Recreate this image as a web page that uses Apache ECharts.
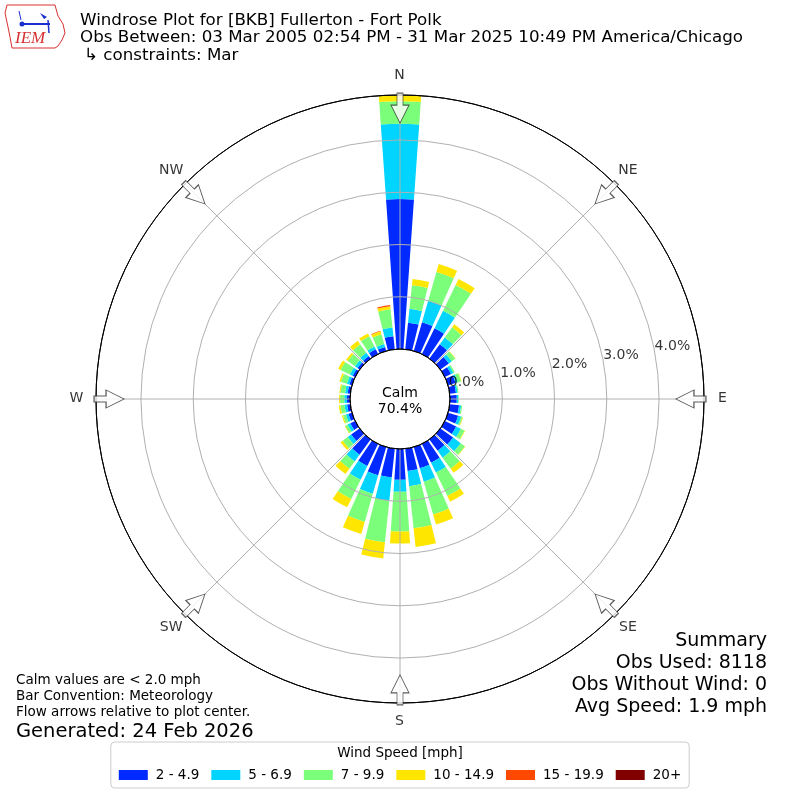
<!DOCTYPE html>
<html><head><meta charset="utf-8">
<script src="https://cdn.jsdelivr.net/npm/echarts/dist/echarts.min.js"></script>
<style>html,body{margin:0;padding:0;background:#fff}#c{width:800px;height:800px}</style>
</head><body><div id="c"></div>
<script>
// ---- data ----
const directions = [0,10,20,30,40,50,60,70,80,90,100,110,120,130,140,150,160,170,180,190,200,210,220,230,240,250,260,270,280,290,300,310,320,330,340,350];
const speedBins = ['2 - 4.9','5 - 6.9','7 - 9.9','10 - 14.9','15 - 19.9','20+'];
const binColors = ['#002aff','#00d4ff','#7bff7b','#ffe600','#ff4900','#800000'];
const s2to5   = [2.87,0.51,0.57,0.55,0.34,0.20,0.13,0.15,0.12,0.13,0.18,0.20,0.24,0.30,0.27,0.40,0.42,0.43,0.59,0.55,0.56,0.47,0.36,0.20,0.10,0.07,0.06,0.06,0.05,0.05,0.05,0.05,0.06,0.10,0.08,0.25];
const s5to7   = [1.44,0.27,0.43,0.37,0.16,0.07,0.05,0.04,0.03,0.03,0.04,0.06,0.10,0.18,0.16,0.21,0.27,0.29,0.23,0.45,0.37,0.29,0.16,0.08,0.06,0.05,0.05,0.05,0.05,0.05,0.06,0.06,0.08,0.06,0.06,0.17];
const s7to10  = [0.43,0.45,0.57,0.55,0.24,0.08,0.03,0.07,0.02,0.01,0.02,0.03,0.08,0.10,0.26,0.50,0.65,0.81,0.76,0.80,0.56,0.41,0.17,0.12,0.05,0.06,0.08,0.08,0.09,0.12,0.20,0.17,0.20,0.22,0.19,0.35];
const s10to15 = [0.11,0.12,0.16,0.13,0.07,0.01,0.00,0.01,0.00,0.00,0.00,0.01,0.01,0.01,0.10,0.12,0.20,0.36,0.23,0.31,0.24,0.18,0.13,0.05,0.01,0.02,0.03,0.02,0.02,0.03,0.05,0.04,0.08,0.06,0.06,0.06];
const s15to20 = [0,0,0,0,0,0,0,0,0,0,0,0,0,0,0,0,0,0,0,0,0,0,0,0,0,0,0,0,0,0,0,0,0,0,0.01,0.02];
const s20plus = [0,0,0,0,0,0,0,0,0,0,0,0,0,0,0,0,0,0,0,0,0,0,0,0,0,0,0,0,0,0,0,0,0,0,0,0];
const radialTicks = [0,1,2,3,4];
const radialTickLabels = ['0.0%','1.0%','2.0%','3.0%','4.0%'];
const compassAngles = [0,45,90,135,180,225,270,315];
const compassLabels = ['N','NE','E','SE','S','SW','W','NW'];
const calmText = 'Calm\n70.4%';
const titleLines = ['Windrose Plot for [BKB] Fullerton - Fort Polk','Obs Between: 03 Mar 2005 02:54 PM - 31 Mar 2025 10:49 PM America/Chicago','\u21b3 constraints: Mar'];
const summaryLines = ['Summary','Obs Used: 8118','Obs Without Wind: 0','Avg Speed: 1.9 mph'];
const noteLines = ['Calm values are < 2.0 mph','Bar Convention: Meteorology','Flow arrows relative to plot center.'];
const generatedText = 'Generated: 24 Feb 2026';
const legendTitle = 'Wind Speed [mph]';
const binSeries = [s2to5, s5to7, s7to10, s10to15, s15to20, s20plus];

// ---- layout ----
const CENTER = [400, 399];
const RADII = [50, 304];
const LABEL_RADII = [0, 323];
const R_MAX = 4.86;
const ARROW_R = 4.61;
const LABEL_BEARING = 80;
const FONT = 'DejaVu Sans';
const arrowPath = 'path://M6,0 L12,0 L12,12 L18,12 L9,30 L0,12 L6,12 Z';

const chart = echarts.init(document.getElementById('c'), null, {renderer:'canvas'});

const series = speedBins.map((name, k) => ({
  type: 'bar', name, coordinateSystem: 'polar', polarIndex: 0, stack: 'wind',
  data: binSeries[k], barCategoryGap: '20%', itemStyle: {color: binColors[k]}, z: 2, silent: true
}));
series.push({
  type: 'scatter', coordinateSystem: 'polar', polarIndex: 1, z: 10, silent: true,
  symbol: arrowPath, symbolSize: [18, 30],
  itemStyle: {color: '#fff', borderColor: '#333', borderWidth: 1},
  data: compassAngles.map(a => ({value: [ARROW_R, a], symbolRotate: -a}))
});
series.push({
  type: 'scatter', coordinateSystem: 'polar', polarIndex: 1, z: 10, silent: true,
  symbolSize: 1, itemStyle: {color: 'rgba(0,0,0,0)'},
  label: {show: true, position: [0, 0], align: 'left', verticalAlign: 'bottom', fontSize: 14, color: '#000', fontFamily: FONT},
  data: radialTicks.map((t, i) => ({value: [t, LABEL_BEARING], label: {formatter: radialTickLabels[i]}}))
});
series.push({
  type: 'scatter', coordinateSystem: 'polar', polarIndex: 2, z: 10, silent: true,
  symbolSize: 1, itemStyle: {color: 'rgba(0,0,0,0)'},
  label: {show: true, position: [0, 0], align: 'center', verticalAlign: 'middle', fontSize: 14, color: '#000', fontFamily: FONT},
  data: compassAngles.map((a, i) => ({value: [1, a], label: {formatter: compassLabels[i]}}))
});

const graphics = [];
titleLines.forEach((t, i) => graphics.push({type: 'text', left: i === 2 ? 84 : 80, top: 12 + i * 17.5, style: {text: t, font: '16.7px "' + FONT + '"', fill: '#000'}}));
summaryLines.forEach((t, i) => graphics.push({type: 'text', right: 33, top: 632 + i * 22, style: {text: t, font: '19px "' + FONT + '"', fill: '#000'}}));
noteLines.forEach((t, i) => graphics.push({type: 'text', left: 16, top: 673 + i * 16, style: {text: t, font: '13.5px "' + FONT + '"', fill: '#000'}}));
graphics.push({type: 'text', left: 16, top: 722, style: {text: generatedText, font: '19.5px "' + FONT + '"', fill: '#000'}});
graphics.push({type: 'text', x: 400, y: 401, style: {text: calmText, align: 'center', verticalAlign: 'middle', font: '14px "' + FONT + '"', fill: '#000', lineHeight: 16}, z: 20});
graphics.push({type: 'text', x: 400, y: 753, style: {text: legendTitle, align: 'center', verticalAlign: 'middle', font: '13.5px "' + FONT + '"', fill: '#000'}, z: 20});
// IEM logo (approximate)
graphics.push({type: 'polygon', shape: {points: [[7,5],[55,5],[58,16],[63,24],[65,33],[62,40],[58,46],[55,48],[12,48],[10,37],[8,27],[5,13]]}, style: {fill: '#fff', stroke: '#d83030', lineWidth: 1}});
graphics.push({type: 'line', shape: {x1: 22, y1: 24, x2: 50, y2: 24}, style: {stroke: '#1a2fd0', lineWidth: 2}});
graphics.push({type: 'circle', shape: {cx: 22, cy: 24, r: 2.5}, style: {fill: '#1a2fd0'}});
graphics.push({type: 'polygon', shape: {points: [[40,13],[47,17],[44,19]]}, style: {fill: '#1a2fd0'}});
graphics.push({type: 'line', shape: {x1: 19, y1: 11, x2: 21, y2: 20}, style: {stroke: '#1a2fd0', lineWidth: 1}});
graphics.push({type: 'line', shape: {x1: 48, y1: 20, x2: 49, y2: 33}, style: {stroke: '#1a2fd0', lineWidth: 1.5}});
graphics.push({type: 'text', left: 15, top: 30, style: {text: 'IEM', font: 'italic 17px "Liberation Serif"', fill: '#d83030'}});

const hiddenAxis = {axisLine: {show: false}, axisTick: {show: false}, axisLabel: {show: false}, splitLine: {show: false}};

const option = {
  animation: false,
  backgroundColor: '#fff',
  textStyle: {fontFamily: FONT},
  polar: [{center: CENTER, radius: RADII}, {center: CENTER, radius: RADII}, {center: CENTER, radius: LABEL_RADII}],
  angleAxis: [
    Object.assign({polarIndex: 0, type: 'category', data: directions, startAngle: 95, clockwise: true, boundaryGap: true}, hiddenAxis),
    {polarIndex: 1, type: 'value', min: 0, max: 360, interval: 45, startAngle: 90, clockwise: true, z: 5,
     axisLine: {show: true, lineStyle: {color: '#000', width: 1}}, axisTick: {show: false},
     axisLabel: {show: false},
     splitLine: {show: true, lineStyle: {color: '#b0b0b0', width: 1}}},
    Object.assign({polarIndex: 2, type: 'value', min: 0, max: 360, startAngle: 90, clockwise: true}, hiddenAxis)
  ],
  radiusAxis: [
    Object.assign({polarIndex: 0, type: 'value', min: 0, max: R_MAX}, hiddenAxis),
    {polarIndex: 1, type: 'value', min: 0, max: R_MAX, interval: 1, z: 5, axisLine: {show: false}, axisTick: {show: false}, axisLabel: {show: false},
     splitLine: {show: true, lineStyle: {color: ['#000','#b0b0b0','#b0b0b0','#b0b0b0','#b0b0b0','#000'], width: 1}}},
    Object.assign({polarIndex: 2, type: 'value', min: 0, max: 1}, hiddenAxis)
  ],
  legend: {
    data: speedBins, left: 'center', top: 742, orient: 'horizontal',
    icon: 'rect', itemWidth: 29, itemHeight: 10, itemGap: 12,
    padding: [26, 8, 6, 8], borderColor: '#cccccc', borderWidth: 1, borderRadius: 4,
    textStyle: {fontSize: 13.5, color: '#000', fontFamily: FONT, padding: [0, 0, 0, 3]}
  },
  graphic: graphics,
  series
};
chart.setOption(option);
</script>
</body></html>
